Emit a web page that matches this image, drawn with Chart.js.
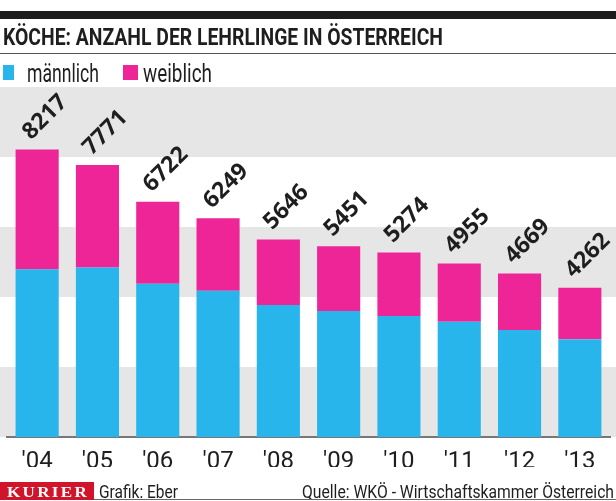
<!DOCTYPE html>
<html>
<head>
<meta charset="utf-8">
<script src="https://cdn.jsdelivr.net/npm/chart.js@4/dist/chart.umd.min.js"></script>
<style>
  html, body { margin: 0; padding: 0; background: #fff; }
  #wrap { position: relative; width: 616px; height: 501px; overflow: hidden; }
  #chart { position: absolute; left: 0; top: 0; }
  .fit { position: absolute; white-space: nowrap; line-height: 1; transform-origin: 0 0; color: #1e1e1e; }
  #topbar { position: absolute; left: 0; top: 11px; width: 616px; height: 8px; background: #1c1c1c; }
  #rule { position: absolute; left: 0; top: 53px; width: 616px; height: 1px; background: #555; }
  #foot { position: absolute; left: 94px; top: 499px; width: 522px; height: 1px; background: #666; }
  #kurier { position: absolute; left: 0; top: 482px; width: 94px; height: 18px; background: #d2142b; }
  .sw { position: absolute; top: 65px; height: 15px; }
</style>
</head>
<body>
<div id="wrap">
  <canvas id="chart" width="616" height="501" style="width:616px;height:501px;"></canvas>
  <div id="topbar"></div>
  <div class="fit" id="title" data-w="440" style="left:3px;top:23px;font:700 24px Roboto,sans-serif;">KÖCHE: ANZAHL DER LEHRLINGE IN ÖSTERREICH</div>
  <div id="rule"></div>
  <div class="sw" style="left:3px;width:11px;background:#27b5ec;"></div>
  <div class="fit" data-w="72" style="left:27px;top:59px;font:400 25px Roboto,sans-serif;">männlich</div>
  <div class="sw" style="left:123px;width:15px;background:#ee2597;"></div>
  <div class="fit" data-w="69" style="left:143px;top:59px;font:400 25px Roboto,sans-serif;">weiblich</div>
  <div id="kurier"></div>
  <div class="fit" data-w="82" style="left:7px;top:484px;font:700 15px 'Liberation Serif',serif;color:#fff;letter-spacing:2px;">KURIER</div>
  <div class="fit" data-w="79" style="left:99px;top:481px;font:400 18px Roboto,sans-serif;">Grafik: Eber</div>
  <div class="fit" data-w="312" data-right="614" style="top:481px;font:400 18px Roboto,sans-serif;">Quelle: WKÖ - Wirtschaftskammer Österreich</div>
  <div id="foot"></div>
</div>
<script>
// Lehrlinge (Köche) nach Geschlecht, WKÖ
const years = ["'04", "'05", "'06", "'07", "'08", "'09", "'10", "'11", "'12", "'13"];
const totals = [8217, 7771, 6722, 6249, 5646, 5451, 5274, 4955, 4669, 4262];
const maleCounts = [4790, 4840, 4380, 4180, 3770, 3600, 3455, 3295, 3055, 2790];
const femaleCounts = [3427, 2931, 2342, 2069, 1876, 1851, 1819, 1660, 1614, 1472];
const bandEdges = [0, 2000, 4000, 6000, 8000, 10000];

const COLORS = { male: "#27b5ec", female: "#ee2597", band: "#e6e6e6", text: "#1e1e1e" };

// squeeze the html texts to the widths of the original (condensed type)
document.querySelectorAll(".fit").forEach((el) => {
  const w = el.getBoundingClientRect().width;
  const target = Number(el.dataset.w);
  el.style.transform = `scaleX(${target / w})`;
  if (el.dataset.right) el.style.left = (Number(el.dataset.right) - target) + "px";
});

// alternating grey bands behind the bars, full width
const bandsPlugin = {
  id: "bands",
  beforeDraw(chart) {
    const { ctx, scales: { y } } = chart;
    ctx.save();
    ctx.fillStyle = COLORS.band;
    for (let i = 0; i < bandEdges.length - 1; i += 2) {
      const top = y.getPixelForValue(bandEdges[i + 1]);
      const bot = y.getPixelForValue(bandEdges[i]);
      ctx.fillRect(0, top, chart.width, bot - top);
    }
    ctx.restore();
  },
};

// rotated totals above each stack
const totalsPlugin = {
  id: "totals",
  afterDatasetsDraw(chart) {
    const { ctx } = chart;
    const bars = chart.getDatasetMeta(1).data;
    ctx.save();
    ctx.fillStyle = COLORS.text;
    ctx.font = "700 23px 'Open Sans', sans-serif";
    ctx.textAlign = "left";
    ctx.textBaseline = "alphabetic";
    bars.forEach((bar, i) => {
      ctx.save();
      ctx.translate(bar.x - 6, bar.y - 9);
      ctx.rotate(-Math.PI / 4);
      ctx.fillText(String(totals[i]), 0, 0);
      ctx.restore();
    });
    ctx.restore();
  },
};

new Chart(document.getElementById("chart"), {
  type: "bar",
  data: {
    labels: years,
    datasets: [
      { label: "männlich", data: maleCounts, backgroundColor: COLORS.male },
      { label: "weiblich", data: femaleCounts, backgroundColor: COLORS.female },
    ],
  },
  options: {
    responsive: false,
    animation: false,
    devicePixelRatio: 1,
    layout: { padding: { left: 7, right: 6, top: 87, bottom: 34 } },
    datasets: { bar: { categoryPercentage: 1, barPercentage: 0.715 } },
    plugins: { legend: { display: false }, tooltip: { enabled: false } },
    scales: {
      x: {
        stacked: true,
        grid: { display: false, drawTicks: false, tickLength: 0 },
        border: { display: true, color: "#777", width: 2 },
        ticks: { color: COLORS.text, font: { family: "Roboto", size: 24 }, padding: 11 },
        afterFit(scale) { scale.height = 30; },
      },
      y: { stacked: true, display: false, min: 0, max: 10000 },
    },
  },
  plugins: [bandsPlugin, totalsPlugin],
});
</script>
</body>
</html>
